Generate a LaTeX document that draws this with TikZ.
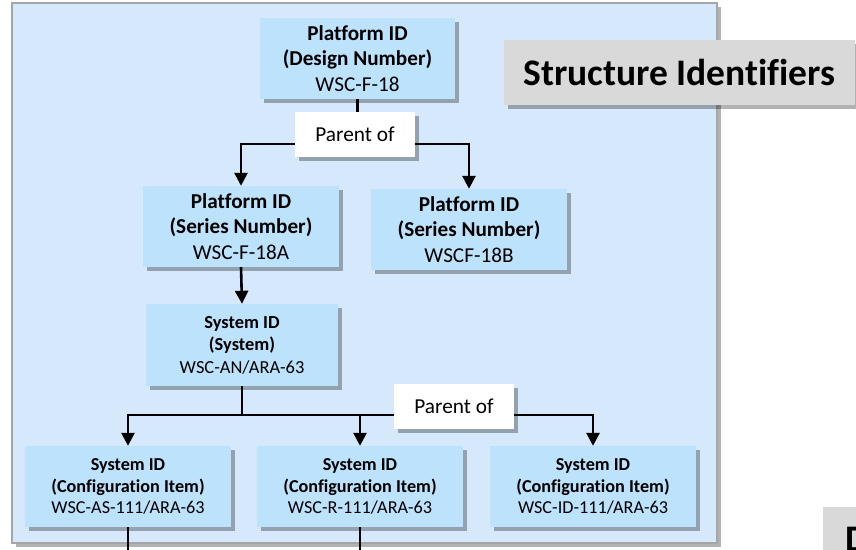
\documentclass[tikz,border=0pt]{standalone}
\usepackage{fontspec}
\setmainfont{Carlito}[Ligatures = CommonOff]
\usetikzlibrary{arrows.meta}
\usetikzlibrary{shadows}
\usetikzlibrary{positioning}

\definecolor{panelblue}{HTML}{D5E8FC}
\definecolor{boxblue}{HTML}{BDE2FB}
\definecolor{titlegray}{HTML}{D9D9D9}
\definecolor{rimgray}{HTML}{A6A6A6}

\tikzset{
    softshadow/.style = {drop shadow = {shadow xshift = 4pt, shadow yshift = -4pt, fill = black, opacity = 0.3}},
    idbox/.style = {fill = boxblue, softshadow, align = center, inner sep = 0pt, minimum width = #1, minimum height = 81pt},
    parentbox/.style = {fill = white, softshadow, inner sep = 0pt, minimum width = 120pt, minimum height = 45pt, font = \fontsize{21.3}{24}\selectfont},
    link/.style = {line width = 2.6pt, -{Triangle[length = 13pt, width = 13pt]}},
    plainlink/.style = {line width = 2.6pt},
}

\begin{document}
\begin{tikzpicture}[x = 1pt, y = -1pt]

    \useasboundingbox (0,0) rectangle (856,549);
    \clip (0,0) rectangle (856,549);

    % panel behind the tree
    \draw[rimgray, line width = 2pt, fill = panelblue, softshadow] (12,3) rectangle (717,543);

    \node[fill = titlegray, softshadow, minimum width = 351pt, minimum height = 65pt, inner sep = 0pt,
          font = \fontsize{37.5}{44}\selectfont\bfseries] (Title) at (679.5,72.5) {Structure Identifiers};

    \node[fill = titlegray, anchor = north west, minimum width = 40pt, minimum height = 50pt, inner sep = 0pt] (Tail) at (823,507) {};
    \node[anchor = north west, inner sep = 0pt, font = \fontsize{37.5}{44}\selectfont\bfseries] (TailText) at (845,527) {D};

    % platform level
    \node[idbox = 195pt, font = \fontsize{21.2}{25.7}\selectfont] (Design) at (357.5,58.5)
        {\textbf{Platform ID}\\\textbf{(Design Number)}\\WSC-F-18};
    \node[idbox = 196pt, font = \fontsize{21.2}{25.7}\selectfont] (SeriesA) at (241,226.5)
        {\textbf{Platform ID}\\\textbf{(Series Number)}\\WSC-F-18A};
    \node[idbox = 196pt, font = \fontsize{21.2}{25.7}\selectfont] (SeriesB) at (469,229.5)
        {\textbf{Platform ID}\\\textbf{(Series Number)}\\WSCF-18B};

    % system level
    \node[idbox = 192pt, minimum height = 82pt, font = \fontsize{18.4}{22.5}\selectfont] (System) at (242,345)
        {\textbf{System ID}\\\textbf{(System)}\\WSC-AN/ARA-63};

    \foreach \NAME/\X/\CODE in {CfgA/128/{WSC-AS-111/ARA-63}, CfgB/360/{WSC-R-111/ARA-63}, CfgC/593/{WSC-ID-111/ARA-63}}{
        \node[idbox = 206pt, font = \fontsize{18.2}{21.7}\selectfont] (\NAME) at (\X,486.5)
            {\textbf{System ID}\\\textbf{(Configuration Item)}\\\CODE};
    }

    % connectors
    \coordinate (JuncA) at (357.5,144);
    \coordinate (JuncB) at (242,415);

    \draw[plainlink] (Design.south) -- (JuncA);
    \draw[link] (JuncA) -| (SeriesA.north);
    \draw[link] (JuncA) -| (SeriesB.north);
    \draw[link] (SeriesA.south) -- (System.north);

    \draw[plainlink] (System.south) -- (JuncB);
    \foreach \NAME in {CfgA, CfgB, CfgC}
        \draw[link] (JuncB) -| (\NAME.north);

    \foreach \NAME in {CfgA, CfgB}{
        \coordinate (Exit\NAME) at (\NAME.south |- 0,560);
        \draw[plainlink] (\NAME.south) -- (Exit\NAME);
    }

    \node[parentbox] (ParentA) at (355,134.5) {Parent of};
    \node[parentbox] (ParentB) at (454,406.5) {Parent of};

\end{tikzpicture}
\end{document}
